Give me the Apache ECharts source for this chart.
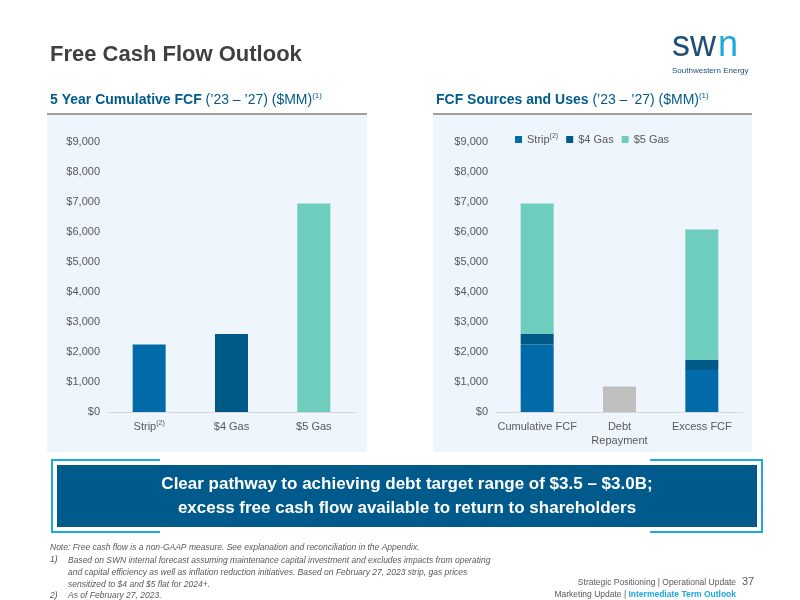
<!DOCTYPE html><html><head><meta charset="utf-8"><script src="https://cdn.jsdelivr.net/npm/echarts@6/dist/echarts.min.js"></script>
<style>html,body{margin:0;padding:0;background:#fff}#c{width:800px;height:600px}</style></head><body><div id="c"></div><script>
const leftCats = ['Strip', '$4 Gas', '$5 Gas'];
const leftValues = [2250, 2600, 6950];
const rightCats = ['Cumulative FCF', 'Debt\nRepayment', 'Excess FCF'];
const stripVals = [2250, null, 1400];
const gas4Vals = [350, null, 330];
const gas5Vals = [4350, null, 4350];
const debtVals = [null, 850, null];
const yTicks = [0, 1000, 2000, 3000, 4000, 5000, 6000, 7000, 8000, 9000];

const C1 = '#006ba8', C2 = '#005a87', C3 = '#6fcdbd', GR = '#bfbfbf';
const F = 'Liberation Sans, Arial, sans-serif';
const fmt = v => '$' + v.toLocaleString('en-US');
const axisLbl = {color:'#595959', fontSize:11, fontFamily:F, formatter: fmt};
const catLbl = {color:'#595959', fontSize:11, fontFamily:F, lineHeight:14, interval:0,
  formatter: v => v === 'Strip' ? 'Strip{s|(2)}' : v,
  rich:{s:{fontSize:7, verticalAlign:'top', padding:[0,0,6,0], color:'#595959'}}};
const yAxisBase = {type:'value', min:0, max:9000, interval:1000, splitLine:{show:false}, axisLine:{show:false}, axisTick:{show:false}, axisLabel:axisLbl};
const xAxisBase = {type:'category', axisTick:{show:false}, axisLine:{lineStyle:{color:'#d9d9d9'}}, axisLabel:catLbl};

const chart = echarts.init(document.getElementById('c'));
chart.setOption({
  animation:false,
  graphic:[
    {type:'rect', shape:{x:47,y:115,width:320,height:337}, style:{fill:'#eef5fc'}, z:-10},
    {type:'rect', shape:{x:433,y:115,width:319,height:337}, style:{fill:'#eef5fc'}, z:-10},
    {type:'line', shape:{x1:47,y1:114,x2:367,y2:114}, style:{stroke:'#7f7f7f', lineWidth:1.5}},
    {type:'line', shape:{x1:433,y1:114,x2:752,y2:114}, style:{stroke:'#7f7f7f', lineWidth:1.5}},
    {type:'text', left:50, top:44, style:{text:'Free Cash Flow Outlook', font:'bold 22px '+F, fill:'#404040'}},
    {type:'text', left:50, top:92, style:{text:'{b|5 Year Cumulative FCF }{n|(’23 – ’27) ($MM)}{s|(1)}', rich:{b:{font:'bold 14px '+F, fill:'#005b8c'}, n:{font:'14px '+F, fill:'#005b8c'}, s:{font:'8px '+F, fill:'#005b8c', verticalAlign:'top', padding:[0,0,8,0]}}}},
    {type:'text', left:436, top:92, style:{text:'{b|FCF Sources and Uses }{n|(’23 – ’27) ($MM)}{s|(1)}', rich:{b:{font:'bold 14px '+F, fill:'#005b8c'}, n:{font:'14px '+F, fill:'#005b8c'}, s:{font:'8px '+F, fill:'#005b8c', verticalAlign:'top', padding:[0,0,8,0]}}}},
    {type:'text', left:672, top:28, style:{text:'sw', font:'36px '+F, fill:'#1f4e79'}},
    {type:'text', left:718, top:28, style:{text:'n', font:'36px '+F, fill:'#1fa8e0'}},
    {type:'text', left:672, top:67, style:{text:'Southwestern Energy', font:'8px '+F, fill:'#1f4e79'}},
    {type:'rect', shape:{x:57,y:465,width:700,height:62}, style:{fill:'#005b8c'}},
    {type:'polyline', shape:{points:[[160,460],[52,460],[52,532],[160,532]]}, style:{stroke:'#1fa8e0', lineWidth:2, fill:null}},
    {type:'polyline', shape:{points:[[650,460],[762,460],[762,532],[650,532]]}, style:{stroke:'#1fa8e0', lineWidth:2, fill:null}},
    {type:'text', x:407, y:496, style:{text:'Clear pathway to achieving debt target range of $3.5 – $3.0B;\nexcess free cash flow available to return to shareholders', font:'bold 17px '+F, fill:'#ffffff', align:'center', verticalAlign:'middle', lineHeight:24}},
    {type:'text', left:50, top:543, style:{text:'Note: Free cash flow is a non-GAAP measure. See explanation and reconciliation in the Appendix.', font:'italic 8.5px '+F, fill:'#595959'}},
    {type:'text', left:50, top:555, style:{text:'1)', font:'italic 8.5px '+F, fill:'#595959'}},
    {type:'text', left:68, top:555, style:{text:'Based on SWN internal forecast assuming maintenance capital investment and excludes impacts from operating\nand capital efficiency as well as inflation reduction initiatives. Based on February 27, 2023 strip, gas prices\nsensitized to $4 and $5 flat for 2024+.', font:'italic 8.5px '+F, fill:'#595959', lineHeight:12}},
    {type:'text', left:50, top:591, style:{text:'2)', font:'italic 8.5px '+F, fill:'#595959'}},
    {type:'text', left:68, top:591, style:{text:'As of February 27, 2023.', font:'italic 8.5px '+F, fill:'#595959'}},
    {type:'text', x:736, y:578, style:{text:'Strategic Positioning | Operational Update', font:'8.5px '+F, fill:'#595959', align:'right'}},
    {type:'text', x:736, y:590, style:{text:'{a|Marketing Update | }{b|Intermediate Term Outlook}', align:'right', rich:{a:{font:'8.5px '+F, fill:'#595959'}, b:{font:'bold 8.5px '+F, fill:'#1fa8e0'}}}},
    {type:'text', left:742, top:576, style:{text:'37', font:'11px '+F, fill:'#595959'}}
  ],
  legend:{top:128, left:510, itemWidth:7, itemHeight:7, itemGap:8, icon:'rect',
    data:['Strip','$4 Gas','$5 Gas'],
    formatter: n => n === 'Strip' ? 'Strip{s|(2)}' : n,
    textStyle:{color:'#595959', fontSize:11, fontFamily:F, rich:{s:{fontSize:7, verticalAlign:'top', padding:[0,0,6,0], color:'#595959'}}}},
  grid:[
    {left:108, right:445, top:142, bottom:188},
    {left:496, right:57, top:142, bottom:188}
  ],
  xAxis:[
    Object.assign({gridIndex:0, data:leftCats}, xAxisBase),
    Object.assign({gridIndex:1, data:rightCats}, xAxisBase)
  ],
  yAxis:[
    Object.assign({gridIndex:0}, yAxisBase),
    Object.assign({gridIndex:1}, yAxisBase)
  ],
  series:[
    {type:'bar', xAxisIndex:0, yAxisIndex:0, barWidth:33, data: leftValues.map((v,i)=>({value:v, itemStyle:{color:[C1,C2,C3][i]}}))},
    {name:'Strip', type:'bar', stack:'r', xAxisIndex:1, yAxisIndex:1, barWidth:33, data:stripVals, itemStyle:{color:C1}},
    {name:'$4 Gas', type:'bar', stack:'r', xAxisIndex:1, yAxisIndex:1, barWidth:33, data:gas4Vals, itemStyle:{color:C2}},
    {name:'$5 Gas', type:'bar', stack:'r', xAxisIndex:1, yAxisIndex:1, barWidth:33, data:gas5Vals, itemStyle:{color:C3}},
    {name:'Debt', type:'bar', stack:'r', xAxisIndex:1, yAxisIndex:1, barWidth:33, data:debtVals, itemStyle:{color:GR}}
  ]
});
</script></body></html>
